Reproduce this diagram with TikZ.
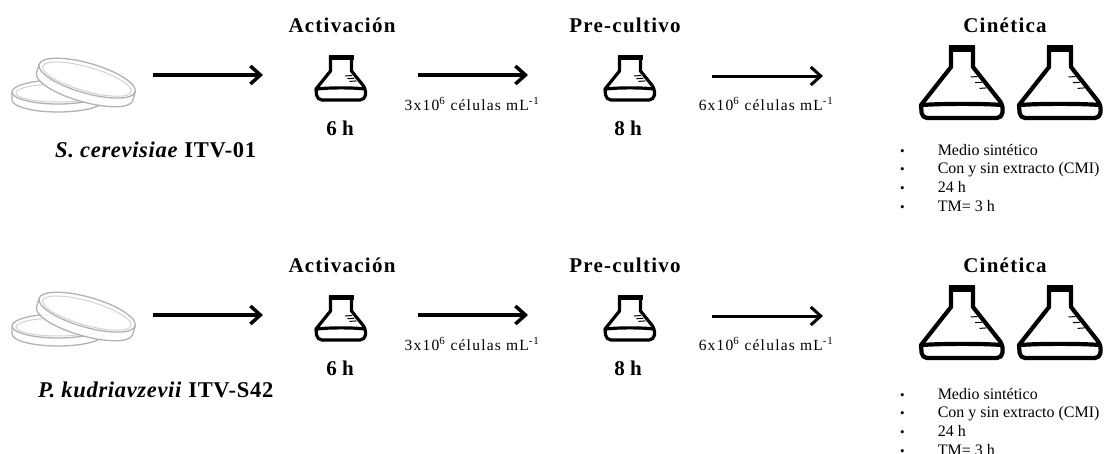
\documentclass[tikz,border=0pt]{standalone}
\usepackage{fontspec}
\setmainfont{Liberation Serif}
\usetikzlibrary{arrows.meta,calc}

% Erlenmeyer flask: #1 top centre, #2 neck half-width, #3 body half-width,
% #4 shoulder depth, #5 base depth, #6 bottom depth, #7 line width
\newcommand\labflask[7]{%
  \begin{scope}[shift={#1}]
    \fill (-#2-2,0) rectangle (#2+2,#7*1.7);
    \draw[line width=#7pt, line join=round]
      (-#2,1) -- (-#2,#4) -- (-#3,#5)
      [rounded corners=5] -- (-#3+1,#6) -- (#3-1,#6) -- (#3,#5)
      [sharp corners] -- (#2,#4) -- (#2,1);
    \draw[line width=#7pt] (-#3+1,#5) .. controls (-#3/2,#5-1.5) and (#3/2,#5-1.5) .. (#3-1,#5);
    \foreach \f in {0.25,0.4,0.55}
      \draw[line width=1pt] ($(#2,#4)!\f!(#3,#5)$) ++(-3,0) -- ++(-7,0.5);
  \end{scope}}

\begin{document}
\begin{tikzpicture}[x=1pt,y=-1pt,
  flowarrow/.style={line width=3.5pt,-{Straight Barb[length=10pt,width=18pt]}},
  stagetitle/.style={font=\fontsize{21}{24}\selectfont\bfseries\addfontfeature{LetterSpace=6}},
  timelabel/.style={font=\fontsize{21}{24}\selectfont\bfseries},
  conclabel/.style={font=\fontsize{15.5}{18}\selectfont\addfontfeature{LetterSpace=8}},
  strainlabel/.style={font=\fontsize{22.5}{26}\selectfont\addfontfeature{LetterSpace=3}},
  condlist/.style={font=\fontsize{16}{18.7}\selectfont, inner sep=0pt, anchor=base west},
  dish/.style={draw=gray!60, line width=1.3pt},
  dishinner/.style={draw=gray!35, line width=1pt}]

\useasboundingbox (0,0) rectangle (1107,453);
\clip (0,0) rectangle (1107,453);
\fill[white] (0,0) rectangle (1107,453);

\foreach \r/\dy/\pd/\ld/\strain in {
  1/0/0/0/{\textbf{\textit{S. cerevisiae}} \textbf{ITV-01}},
  2/240/234/4/{\textbf{\textit{P. kudriavzevii}} \textbf{ITV-S42}}}{
  % Petri dishes
  \begin{scope}[shift={(0,\pd)}]
    \draw[dish, fill=white] (12,92) -- (12,100)
      arc[start angle=180, end angle=0, x radius=46, y radius=12] -- (104,92);
    \draw[dish, fill=white] (58,92) ellipse [x radius=46, y radius=12];
    \draw[dishinner] (58,93) ellipse [x radius=42, y radius=9];
    \begin{scope}[rotate around={-16:(86,82)}]
      \draw[dish, fill=white, fill opacity=0.9] (36,78) -- (36,87)
        arc[start angle=180, end angle=0, x radius=50, y radius=15] -- (136,78);
      \draw[dish, fill=white, fill opacity=0.9] (86,78) ellipse [x radius=50, y radius=15];
      \draw[dishinner] (86,79) ellipse [x radius=46, y radius=12];
    \end{scope}
  \end{scope}

  \begin{scope}[shift={(0,\dy)}]
    \node[strainlabel] (strain\r) at (156,150) {\strain};

    % Activation stage
    \node[stagetitle] (act\r) at (342,25) {Activación};
    \labflask{(341,55)}{10.5}{25}{16}{34}{45}{3.2}
    \node[timelabel] (acth\r) at (340,128) {6 h};
    \coordinate (a\r s) at (153,75);
    \coordinate (a\r e) at (263,75);
    \draw[flowarrow] (a\r s) -- (a\r e);

    % Pre-culture stage
    \coordinate (b\r s) at (418,75);
    \coordinate (b\r e) at (528,75);
    \draw[flowarrow] (b\r s) -- (b\r e);
    \node[conclabel] (bconc\r) at (472,104) {3x10\textsuperscript{6} células mL\textsuperscript{-1}};
    \node[stagetitle] (pre\r) at (625,25) {Pre-cultivo};
    \labflask{(630,55)}{10.5}{25}{16}{34}{45}{3.2}
    \node[timelabel] (preh\r) at (628,128) {8 h};

    % Kinetics stage
    \coordinate (c\r s) at (712,76);
    \coordinate (c\r e) at (823,76);
    \draw[flowarrow, line width=3pt] (c\r s) -- (c\r e);
    \node[conclabel] (cconc\r) at (766,104) {6x10\textsuperscript{6} células mL\textsuperscript{-1}};
    \node[stagetitle] (cin\r) at (1005,25) {Cinética};
    \labflask{(962,45)}{11}{41}{22}{60}{73}{4.2}
    \labflask{(1060,45)}{11}{41}{22}{60}{73}{4.2}
    \node[condlist] (cond\r) at (900,155+\ld) {%
      \begin{tabular}[t]{@{}l@{\hspace{33pt}}l@{}}
        {\fontsize{13}{13}\selectfont •} & Medio sintético\\
        {\fontsize{13}{13}\selectfont •} & Con y sin extracto (CMI)\\
        {\fontsize{13}{13}\selectfont •} & 24 h\\
        {\fontsize{13}{13}\selectfont •} & TM= 3 h
      \end{tabular}};
  \end{scope}
}
\end{tikzpicture}
\end{document}
